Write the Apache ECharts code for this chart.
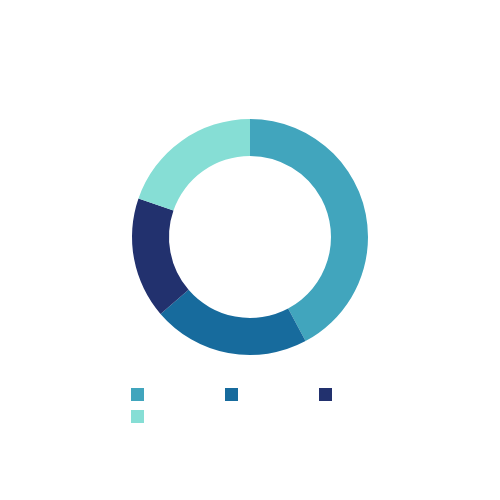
<!DOCTYPE html>
<html><head><meta charset="utf-8">
<script src="https://cdn.jsdelivr.net/npm/echarts@6/dist/echarts.min.js"></script>
<style>html,body{margin:0;padding:0;background:#fff}#c{width:500px;height:500px}</style>
</head><body><div id="c"></div>
<script>
var categories = ['Category A', 'Category B', 'Category C', 'Category D'];
var values = [42.2, 21.5, 16.6, 19.7];
var colors = ['#41a5bd', '#176b9d', '#22316e', '#86ded5'];

var chart = echarts.init(document.getElementById('c'), null, {renderer: 'canvas'});
chart.setOption({
  animation: false,
  color: colors,
  legend: {
    data: categories,
    left: 131,
    top: 388,
    width: 282,
    icon: 'rect',
    itemWidth: 13,
    itemHeight: 13,
    itemGap: 9,
    padding: 0,
    textStyle: {color: 'rgba(0,0,0,0)', width: 67, overflow: 'truncate', fontSize: 12, lineHeight: 12}
  },
  series: [{
    type: 'pie',
    center: [250, 237],
    radius: [81, 118],
    startAngle: 90,
    clockwise: true,
    label: {show: false},
    labelLine: {show: false},
    itemStyle: {borderWidth: 0},
    data: categories.map(function (n, i) { return {name: n, value: values[i]}; })
  }]
});
</script></body></html>
